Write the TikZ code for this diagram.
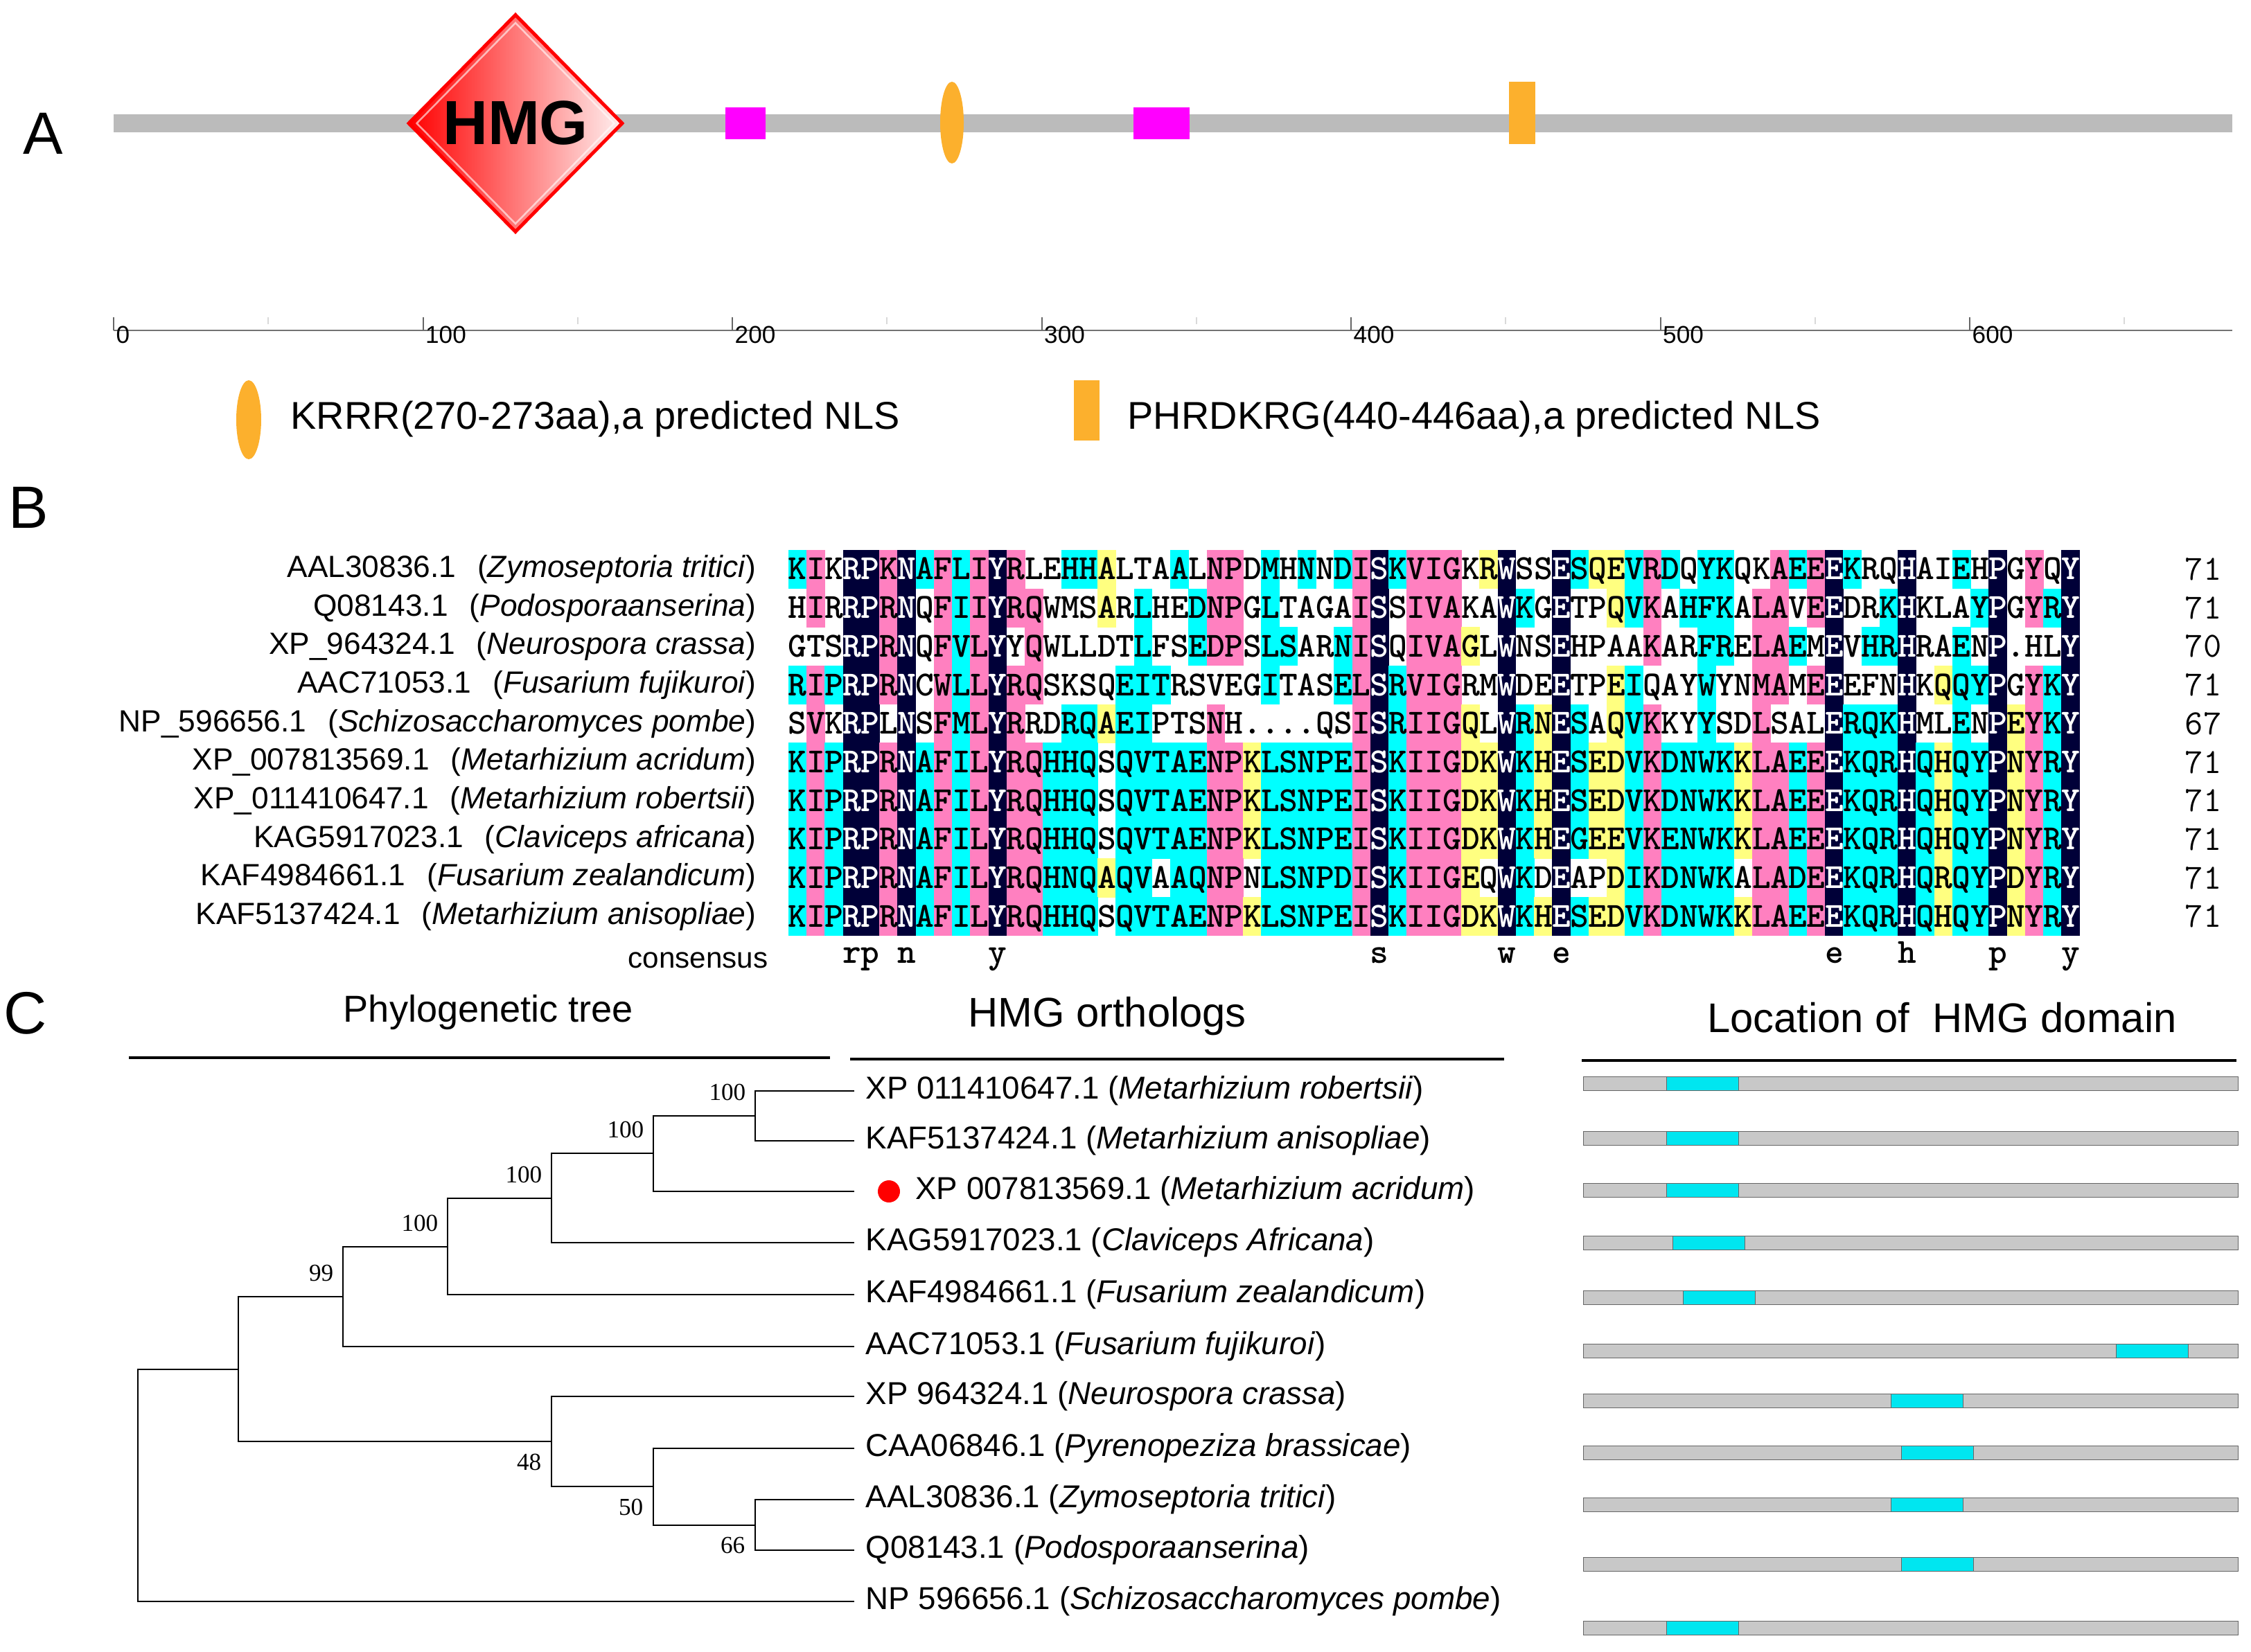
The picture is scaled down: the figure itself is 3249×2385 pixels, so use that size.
\documentclass[tikz,border=0pt]{standalone}
\usepackage{fontspec}
\setmainfont{Liberation Sans}
\newfontfamily\bootfont{Liberation Serif}
\usetikzlibrary{positioning,shapes.geometric}
\definecolor{bargray}{RGB}{187,187,187}
\definecolor{nlsorange}{RGB}{252,176,45}
\definecolor{motifpink}{RGB}{255,0,255}
\definecolor{alnnavy}{RGB}{0,0,56}
\definecolor{alnpink}{RGB}{255,128,192}
\definecolor{alncyan}{RGB}{0,255,255}
\definecolor{alnyellow}{RGB}{255,255,128}
\definecolor{domcyan}{RGB}{0,230,240}
\definecolor{domgray}{RGB}{200,200,200}

% one alignment row: row number, residues, colour codes (w/n/p/c/y)
\newcount\alncol
\def\alnrow#1#2#3{\alncol=0 \def\alnr{#1}\alnloop#2\relax#3\relax}
\def\alnloop#1#2\relax#3#4\relax{%
  \advance\alncol by 1
  \node[cell#3] (s\alnr c\the\alncol) at ({1138+(\the\alncol-0.5)*26.25},{794+(\alnr-0.5)*55.7}) {#1};%
  \ifx\relax#2\relax\else\alnloop#2\relax#4\relax\fi}

\begin{document}
\begin{tikzpicture}[
    x=0.1mm, y=-0.1mm,
    every node/.style={font=\fontsize{15.4}{18}\selectfont},
    panel/.style={inner sep=0pt, font=\fontsize{24.5}{28}\selectfont},
    legendtext/.style={anchor=west, inner sep=0pt, font=\fontsize{15.9}{18}\selectfont},
    ticklabel/.style={anchor=west, inner sep=0pt, font=\fontsize{10}{12}\selectfont},
    cellbase/.style={inner sep=0pt, minimum width=2.66mm, minimum height=5.61mm, text height=8.6pt, text depth=0pt, font=\ttfamily\bfseries\fontsize{14.5}{14}\selectfont, text=black},
    cellw/.style={cellbase},
    celln/.style={cellbase, fill=alnnavy, text=white},
    cellp/.style={cellbase, fill=alnpink},
    cellc/.style={cellbase, fill=alncyan},
    celly/.style={cellbase, fill=alnyellow},
    seqlabel/.style={anchor=east, inner sep=0pt, font=\fontsize{12.6}{14}\selectfont},
    seqnum/.style={anchor=east, inner sep=0pt, font=\ttfamily\fontsize{14.5}{14}\selectfont},
    consletter/.style={anchor=base, inner sep=0pt, font=\ttfamily\bfseries\fontsize{14.5}{14}\selectfont},
    header/.style={inner sep=0pt},
    headline/.style={line width=0.35mm},
    leaf/.style={anchor=west, inner xsep=1.6mm, inner ysep=0pt, font=\fontsize{13}{15}\selectfont},
    branch/.style={line width=0.22mm},
    boot/.style={inner sep=0pt, font=\bootfont\fontsize{10}{12}\selectfont},
    dombar/.style={fill=domgray, draw=black!60, line width=0.1mm},
    dombox/.style={fill=domcyan, draw=black!60, line width=0.1mm},
]
\useasboundingbox (0,0) rectangle (3249,2385);

% --- PANEL A ---
\node[panel] (labA) at (62,193) {A};
\fill[bargray] (164,165) rectangle (3222,191);
\node[diamond, minimum width=31mm, minimum height=31.5mm, inner sep=0pt, left color=red, right color=red!6, draw=red, line width=0.5mm] (hmg) at (744,178) {};
\node[diamond, minimum width=28.6mm, minimum height=29.1mm, inner sep=0pt, draw=white, draw opacity=0.6, line width=0.25mm] (hmgin) at (744,178) {};
\node[font=\bfseries\fontsize{25.6}{28}\selectfont, inner sep=0pt] (hmgtxt) at (hmg.center) {HMG};
\fill[motifpink] (1047,155) rectangle (1105,201);
\fill[nlsorange] (1374,177) ellipse [x radius=1.7mm, y radius=5.9mm];
\fill[motifpink] (1636,155) rectangle (1717,201);
\fill[nlsorange] (2178,118) rectangle (2216,208);

% scale
\draw[black!55, line width=0.25mm] (164,477) -- (3222,477);
\foreach \v in {50,150,...,650}
  \draw[black!15, line width=0.2mm] ({164+\v*4.465},458) -- ({164+\v*4.465},468);
\foreach \v in {0,100,...,600} {
  \draw[black!60, line width=0.2mm] ({164+\v*4.465},458) -- ({164+\v*4.465},477);
  \node[ticklabel] (tick\v) at ({167+\v*4.465},483) {\v};
}

% legend
\fill[nlsorange] (359,606) ellipse [x radius=1.8mm, y radius=5.7mm];
\node[legendtext] (nls1) at (419,605) {KRRR(270-273aa),a predicted NLS};
\fill[nlsorange] (1550,549) rectangle (1587,636);
\node[legendtext] (nls2) at (1627,605) {PHRDKRG(440-446aa),a predicted NLS};

% --- PANEL B ---
\node[panel] (labB) at (41,733) {B};
\foreach \r/\acc/\sp/\len in {1/AAL30836.1/Zymoseptoria tritici/71,
    2/Q08143.1/Podosporaanserina/71,
    3/XP\_964324.1/Neurospora crassa/70,
    4/AAC71053.1/Fusarium fujikuroi/71,
    5/NP\_596656.1/Schizosaccharomyces pombe/67,
    6/XP\_007813569.1/Metarhizium acridum/71,
    7/XP\_011410647.1/Metarhizium robertsii/71,
    8/KAG5917023.1/Claviceps africana/71,
    9/KAF4984661.1/Fusarium zealandicum/71,
    10/KAF5137424.1/Metarhizium anisopliae/71} {
  \node[seqlabel] (name\r) at (1092,{794+(\r-0.5)*55.7}) {\acc\hspace{0.7em}(\textit{\sp})};
  \node[seqnum] (len\r) at (3207,{794+(\r-0.5)*55.7}) {\len};
}

\alnrow{1}{KIKRPKNAFLIYRLEHHALTAALNPDMHNNDISKVIGKRWSSESQEVRDQYKQKAEEEKRQHAIEHPGYQY}{cpwnnpncpcpnpwwccywwwcwppwcwcwcpncpppwynwwncyycpcwccwwpcpncwwnwwcwnwpwn}
\alnrow{2}{HIRRPRNQFIIYRQWMSARLHEDNPGLTAGAISSIVAKAWKGETPQVKAHFKALAVEEDRKHKLAYPGYRY}{wpwnnpnwpcpnppwwwywcwwcppwcwwwwpnwpppwwncwnwwycpwcccwppwpnwwcnwwwcnwpcn}
\alnrow{3}{GTSRPRNQFVLYYQWLLDTLFSEDPSLSARNISQIVAGLWNSEHPAAKARFRELAEMEVHRHRAENP.HLY}{wwwnnpnwpcpnwpwwwwwcwwcppwccwwcpnwpppywnwwnwwwwpwwccwppcwnwccnwwcwnwwwn}
\alnrow{4}{RIPRPRNCWLLYRQSKSQEITRSVEGITASELSRVIGRMWDEETPEIQAYWYNMAMEEEFNHKQQYPGYKY}{cpcnnpnwpcpnppwwwwcccwwwwwcwwwcpncpppwwnwwnwwycwwwcwwppwpnwwwnwyccnwpcn}
\alnrow{5}{SVKRPLNSFMLYRRDRQAEIPTSNH....QSISRIIGQLWRNESAQVKKYYSDLSALERQKHMLENPEYKY}{wpwnnwnwpcpnpwwccyccwwwpwwwwwwwpncpppywncyncwycpwwcwwpwwwncccnwwcwnypcn}
\alnrow{6}{KIPRPRNAFILYRQHHQSQVTAENPKLSNPEISKIIGDKWKHESEDVKDNWKKLAEEEKQRHQHQYPNYRY}{cpcnnpncpcpnppcccwcccccppycccccpncpppyyncyncyycpccccyppcpncccncyccnypcn}
\alnrow{7}{KIPRPRNAFILYRQHHQSQVTAENPKLSNPEISKIIGDKWKHESEDVKDNWKKLAEEEKQRHQHQYPNYRY}{cpcnnpncpcpnppcccwcccccppycccccpncpppyyncyncyycpccccyppcpncccncyccnypcn}
\alnrow{8}{KIPRPRNAFILYRQHHQSQVTAENPKLSNPEISKIIGDKWKHEGEEVKENWKKLAEEEKQRHQHQYPNYRY}{cpcnnpncpcpnppcccwcccccppycccccpncpppyyncyncyycpccccyppcpncccncyccnypcn}
\alnrow{9}{KIPRPRNAFILYRQHNQAQVAAQNPNLSNPDISKIIGEQWKDEAPDIKDNWKALADEEKQRHQRQYPDYRY}{cpcnnpncpcpnppcccyccwccppwcccccpncpppywncwnwwycpccccwppcpncccncyccnypcn}
\alnrow{10}{KIPRPRNAFILYRQHHQSQVTAENPKLSNPEISKIIGDKWKHESEDVKDNWKKLAEEEKQRHQHQYPNYRY}{cpcnnpncpcpnppcccwcccccppycccccpncpppyyncyncyycpccccyppcpncccncyccnypcn}

% consensus line
\node[anchor=east, inner sep=0pt, font=\fontsize{12}{14}\selectfont] (cons) at (1109,1386) {consensus};
\foreach \c/\l in {4/r,5/p,7/n,12/y,33/s,40/w,43/e,58/e,62/h,67/p,71/y}
  \node[consletter] (cons\c) at ({1138+(\c-0.5)*26.25},1390) {\l};

% --- PANEL C ---
\node[panel] (labC) at (37,1463) {C};
\node[header] (hTree) at (705,1461) {Phylogenetic tree};
\node[header, font=\fontsize{17}{20}\selectfont] (hOrth) at (1598,1467) {HMG orthologs};
\node[header, font=\fontsize{17}{20}\selectfont] (hLoc) at (2803,1469) {Location of\ \ HMG domain};
\draw[headline] (186,1527) -- (1198,1527);
\draw[headline] (1227,1529) -- (2171,1529);
\draw[headline] (2283,1531) -- (3228,1531);

% leaves
\node[leaf] (l1) at (1233,1575) {XP 011410647.1 (\textit{Metarhizium robertsii})};
\node[leaf] (l2) at (1233,1647) {KAF5137424.1 (\textit{Metarhizium anisopliae})};
\coordinate (e3) at (1233,1720);
\node[circle, fill=red, minimum size=3.2mm, inner sep=0pt] (dot3) at (1283,1720) {};
\node[leaf, right=0.5mm of dot3] (l3) {XP 007813569.1 (\textit{Metarhizium acridum})};
\node[leaf] (l4) at (1233,1794) {KAG5917023.1 (\textit{Claviceps Africana})};
\node[leaf] (l5) at (1233,1869) {KAF4984661.1 (\textit{Fusarium zealandicum})};
\node[leaf] (l6) at (1233,1944) {AAC71053.1 (\textit{Fusarium fujikuroi})};
\node[leaf] (l7) at (1233,2016) {XP 964324.1 (\textit{Neurospora crassa})};
\node[leaf] (l8) at (1233,2091) {CAA06846.1 (\textit{Pyrenopeziza brassicae})};
\node[leaf] (l9) at (1233,2165) {AAL30836.1 (\textit{Zymoseptoria tritici})};
\node[leaf] (l10) at (1233,2238) {Q08143.1 (\textit{Podosporaanserina})};
\node[leaf] (l11) at (1233,2312) {NP 596656.1 (\textit{Schizosaccharomyces pombe})};

% inner nodes
\coordinate (nA) at (1090,1611);
\coordinate (nB) at (943,1665);
\coordinate (nC) at (796,1730);
\coordinate (nD) at (646,1800);
\coordinate (nE) at (495,1872);
\coordinate (nF) at (344,1977);
\coordinate (nG) at (796,2081);
\coordinate (nH) at (943,2146);
\coordinate (nI) at (1090,2202);
\coordinate (nR) at (199,2144);

% branches
\draw[branch] (l1.west) -| (nA) |- (l2.west);
\draw[branch] (nA) -| (nB) |- (e3);
\draw[branch] (nB) -| (nC) |- (l4.west);
\draw[branch] (nC) -| (nD) |- (l5.west);
\draw[branch] (nD) -| (nE) |- (l6.west);
\draw[branch] (nE) -| (nF) |- (nG);
\draw[branch] (l7.west) -| (nG) |- (nH);
\draw[branch] (l8.west) -| (nH) |- (nI);
\draw[branch] (l9.west) -| (nI) |- (l10.west);
\draw[branch] (nF) -| (nR) |- (l11.west);

% bootstrap values
\node[boot, above left=2.1mm and 1.3mm of nA] (bA) {100};
\node[boot, above left=2.1mm and 1.3mm of nB] (bB) {100};
\node[boot, above left=2.1mm and 1.3mm of nC] (bC) {100};
\node[boot, above left=2.1mm and 1.3mm of nD] (bD) {100};
\node[boot, above left=2.1mm and 1.3mm of nE] (bE) {99};
\node[boot, below left=1.7mm and 1.4mm of nG] (bG) {48};
\node[boot, below left=1.7mm and 1.4mm of nH] (bH) {50};
\node[boot, below left=1.7mm and 1.4mm of nI] (bI) {66};

% HMG domain locations
\foreach \y/\a in {1564/2405,1643/2405,1718/2405,1794/2414,1873/2429,1950/3054,2022/2729,2097/2744,2172/2729,2258/2744,2350/2405} {
  \draw[dombar] (2285,\y-10) rectangle (3230,\y+10);
  \draw[dombox] (\a,\y-10) rectangle ++(104,20);
}

\end{tikzpicture}
\end{document}
